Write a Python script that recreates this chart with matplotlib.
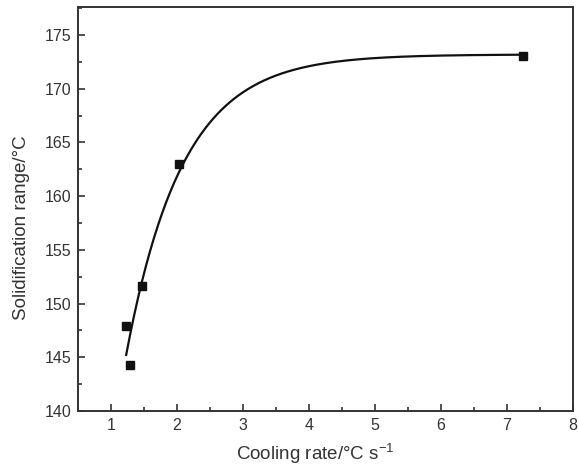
import numpy as np
import matplotlib.pyplot as plt
from matplotlib.ticker import MultipleLocator

# --- dados ---
cooling_rate = [1.23, 1.29, 1.47, 2.03, 7.25]
solid_range = [147.9, 144.3, 151.6, 163.0, 173.0]

plt.rcParams['font.family'] = ['Liberation Sans', 'DejaVu Sans']
plt.rcParams['mathtext.fontset'] = 'custom'
plt.rcParams['mathtext.rm'] = 'Liberation Sans'
plt.rcParams['mathtext.default'] = 'regular'
text_color = '#333333'

# ajuste exponencial y = A - B*exp(-x/t): busca em t, mínimos quadrados em A, B
x = np.array(cooling_rate)
y = np.array(solid_range)
best = None
for t in np.linspace(0.2, 3.0, 2000):
    M = np.column_stack([np.ones_like(x), -np.exp(-x / t)])
    coef, res, _, _ = np.linalg.lstsq(M, y, rcond=None)
    err = np.sum((M @ coef - y) ** 2)
    if best is None or err < best[0]:
        best = (err, t, coef)
_, t_fit, (A_fit, B_fit) = best
x_fit = np.linspace(x.min(), x.max(), 300)
y_fit = A_fit - B_fit * np.exp(-x_fit / t_fit)

fig = plt.figure(figsize=(5.79, 4.70), dpi=100)
ax = fig.add_axes([0.1347, 0.1255, 0.8549, 0.8595])

ax.plot(x_fit, y_fit, color='#111111', lw=1.6)
ax.plot(x, y, 's', color='#111111', ms=5.5)

ax.set_xlim(0.5, 8)
ax.set_ylim(140, 177.6)
ax.xaxis.set_major_locator(MultipleLocator(1))
ax.xaxis.set_minor_locator(MultipleLocator(0.5))
ax.yaxis.set_major_locator(MultipleLocator(5))
ax.yaxis.set_minor_locator(MultipleLocator(2.5))
ax.tick_params(which='both', direction='in', color='#333333', width=1.2,
               labelsize=11.5, labelcolor=text_color, pad=5)
ax.tick_params(which='major', length=5)
ax.tick_params(which='minor', length=3)
for s in ax.spines.values():
    s.set_linewidth(1.4)
    s.set_color('#333333')

ax.set_xlabel('Cooling rate/°C s$^{-1}$', fontsize=13.5, color=text_color)
ax.xaxis.set_label_coords(0.48, -0.076)
ax.set_ylabel('Solidification range/°C', fontsize=13.5, color=text_color)
ax.yaxis.set_label_coords(-0.096, 0.455)

fig.savefig('out.png', dpi=100)
